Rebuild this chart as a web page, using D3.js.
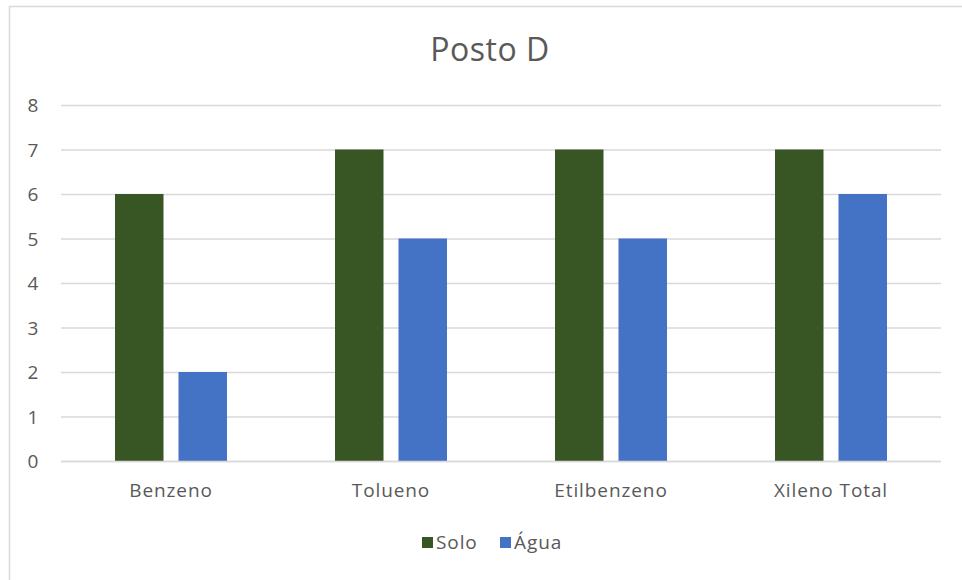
<!DOCTYPE html>
<html>
<head>
<meta charset="utf-8">
<script src="https://cdn.jsdelivr.net/npm/d3@7"></script>
<style>
  html, body { margin: 0; padding: 0; background: #fff; }
  svg { display: block; font-family: "Open Sans", "Noto Sans", sans-serif; }
</style>
</head>
<body>
<svg id="chart" width="962" height="580"></svg>
<script>
// Chart data
const categories = ["Benzeno", "Tolueno", "Etilbenzeno", "Xileno Total"];
const seriesNames = ["Solo", "Água"];
const soloValues = [6, 7, 7, 7];
const aguaValues = [2, 5, 5, 6];
const yTicks = [0, 1, 2, 3, 4, 5, 6, 7, 8];
const chartTitle = "Posto D";

const colors = { "Solo": "#375623", "Água": "#4472c4" };
const textColor = "#595959";
const gridColor = "#d9d9d9";
const labelFont = { size: "19px", spacing: "0.9px" };

const svg = d3.select("#chart");

// Outer chart frame
svg.append("rect")
  .attr("x", 9.5).attr("y", 6.5)
  .attr("width", 970).attr("height", 600)
  .attr("fill", "#fff")
  .attr("stroke", "#d9d9d9")
  .attr("stroke-width", 1.5);

const plot = { left: 61, right: 941, top: 105, bottom: 461 };

const x0 = d3.scaleBand()
  .domain(categories)
  .range([plot.left, plot.right])
  .padding(0);

const x1 = d3.scaleBand()
  .domain(seriesNames)
  .range([54, 166])
  .paddingInner(0.236)
  .paddingOuter(0);

const y = d3.scaleLinear()
  .domain([0, 8])
  .range([plot.bottom, plot.top]);

// Gridlines
svg.append("g")
  .selectAll("line")
  .data(yTicks)
  .join("line")
  .attr("x1", plot.left).attr("x2", plot.right)
  .attr("y1", d => y(d) + 0.5).attr("y2", d => y(d) + 0.5)
  .attr("stroke", gridColor)
  .attr("stroke-width", 1.3);

// Y axis labels
const yAxis = d3.axisLeft(y).tickValues(yTicks).tickSize(0).tickPadding(0);
const yg = svg.append("g")
  .attr("transform", `translate(${plot.left - 28},0)`)
  .call(yAxis);
yg.select(".domain").remove();
yg.selectAll("text")
  .attr("text-anchor", "middle")
  .attr("fill", textColor)
  .attr("font-size", labelFont.size)
  .attr("font-family", "'Open Sans', sans-serif")
  .attr("dy", "0.36em");

// Bars
const rows = categories.map((c, i) => ({
  category: c,
  values: [
    { series: "Solo", value: soloValues[i] },
    { series: "Água", value: aguaValues[i] }
  ]
}));

svg.append("g")
  .selectAll("g")
  .data(rows)
  .join("g")
  .attr("transform", d => `translate(${x0(d.category)},0)`)
  .selectAll("rect")
  .data(d => d.values)
  .join("rect")
  .attr("x", d => x1(d.series))
  .attr("width", x1.bandwidth())
  .attr("y", d => y(d.value))
  .attr("height", d => y(0) - y(d.value))
  .attr("fill", d => colors[d.series]);

// X axis line
svg.append("line")
  .attr("x1", plot.left).attr("x2", plot.right)
  .attr("y1", y(0) + 0.5).attr("y2", y(0) + 0.5)
  .attr("stroke", gridColor)
  .attr("stroke-width", 1.5);

// Category labels
const xAxis = d3.axisBottom(x0).tickSize(0).tickPadding(0);
const xg = svg.append("g")
  .attr("transform", `translate(0,${plot.bottom + 29})`)
  .call(xAxis);
xg.select(".domain").remove();
xg.selectAll("text")
  .attr("fill", textColor)
  .attr("font-size", labelFont.size)
  .attr("letter-spacing", labelFont.spacing)
  .attr("font-family", "'Open Sans', sans-serif")
  .attr("dy", "0.36em");

// Title
svg.append("text")
  .attr("x", 490).attr("y", 61)
  .attr("text-anchor", "middle")
  .attr("fill", textColor)
  .attr("font-size", "32px")
  .attr("letter-spacing", "0.5px")
  .text(chartTitle);

// Legend
const legendItems = [
  { name: "Solo", x: 422 },
  { name: "Água", x: 500 }
];
const lg = svg.append("g");
lg.selectAll("rect")
  .data(legendItems)
  .join("rect")
  .attr("x", d => d.x).attr("y", 537)
  .attr("width", 11).attr("height", 11)
  .attr("fill", d => colors[d.name]);
lg.selectAll("text")
  .data(legendItems)
  .join("text")
  .attr("x", d => d.x + 14).attr("y", 542)
  .attr("dy", "0.36em")
  .attr("fill", textColor)
  .attr("font-size", labelFont.size)
  .attr("letter-spacing", labelFont.spacing)
  .text(d => d.name);
</script>
</body>
</html>
